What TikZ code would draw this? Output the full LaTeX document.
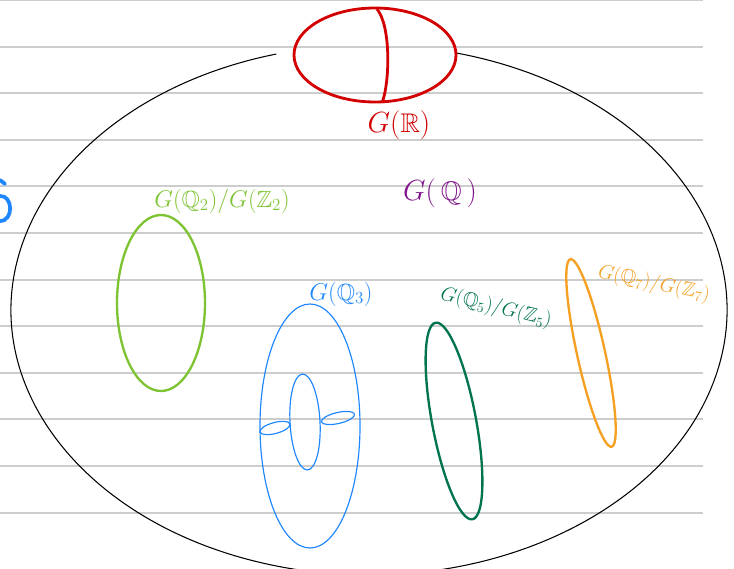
\documentclass[tikz,border=0pt]{standalone}
\usepackage{amsmath,amssymb}
\usepackage{tikz}
\usetikzlibrary{calc}
\definecolor{redR}{RGB}{210,0,0}
\definecolor{greenTwo}{RGB}{125,195,50}
\definecolor{purpleQ}{RGB}{128,20,140}
\definecolor{blueThree}{RGB}{30,135,255}
\definecolor{greenFive}{RGB}{0,115,80}
\definecolor{orangeSeven}{RGB}{245,160,35}
\definecolor{ruleGray}{RGB}{205,205,205}

\begin{document}
\begin{tikzpicture}[
    x=0.03cm, y=-0.03cm,
    rule/.style={ruleGray, line width=1.6pt},
    outline/.style={black, line width=0.9pt},
    lbl/.style={inner sep=0pt, font=\fontsize{20}{24}\selectfont},
    blbl/.style={inner sep=0pt, font=\fontsize{23}{27}\selectfont},
    slbl/.style={inner sep=0pt, font=\fontsize{17}{20}\selectfont}
]
\useasboundingbox (0,0) rectangle (734,569);

% Linien des Papiers
\foreach \k in {0,...,11}
    \draw[rule] (0,{\k*46.6}) -- (703,{\k*46.6});

% Rest eines Buchstabens am linken Rand
\draw[blueThree, line width=3.2pt, line cap=round] (0,180) -- (5,184);
\draw[blueThree, line width=3.2pt, line cap=round] (0,196) .. controls (13,195) and (14,221) .. (0,221);

% grosse Ellipse G(Q)
\draw[outline] (369,310) ++(284:358 and 265)
    arc[start angle=284, end angle=615, x radius=358, y radius=265];

% G(R)
\draw[redR, line width=2.4pt] (375,55) ellipse [x radius=81, y radius=47];
\draw[redR, line width=2.4pt] (377,9) .. controls (391,26) and (390,82) .. (382,103);
\node[blbl, redR] (gR) at (399,125) {$G(\mathbb{R})$};

% G(Q)
\node[blbl, purpleQ] (gQ) at (440,193) {$G(\,\mathbb{Q}\,)$};

% p = 2
\draw[greenTwo, line width=2pt] (161,303) ellipse [x radius=44, y radius=88];
\node[lbl, greenTwo] (gTwo) at (222,201) {$G(\mathbb{Q}_2)/G(\mathbb{Z}_2)$};

% p = 3 (Torus)
\draw[blueThree, line width=1pt] (310,426) ellipse [x radius=50, y radius=122];
\draw[blueThree, line width=1pt, rotate around={3:(305,422)}] (305,422) ellipse [x radius=15, y radius=48];
\draw[blueThree, line width=1pt, rotate around={15:(275,428)}] (275,428) ellipse [x radius=15.5, y radius=5.5];
\draw[blueThree, line width=1pt, rotate around={13:(338,418)}] (338,418) ellipse [x radius=17, y radius=5.5];
\node[lbl, blueThree] (gThree) at (341,294) {$G(\mathbb{Q}_3)$};

% p = 5
\draw[greenFive, line width=2pt, rotate around={10.6:(454,421)}] (454,421) ellipse [x radius=22, y radius=100];
\node[slbl, greenFive, rotate=-14] (gFive) at (496,308) {$G(\mathbb{Q}_5)/G(\mathbb{Z}_5)$};

% p = 7
\draw[orangeSeven, line width=2pt, rotate around={12.4:(591,353)}] (591,353) ellipse [x radius=14, y radius=96];
\node[slbl, orangeSeven, rotate=-12] (gSeven) at (654,284) {$G(\mathbb{Q}_7)/G(\mathbb{Z}_7)$};

\end{tikzpicture}
\end{document}
